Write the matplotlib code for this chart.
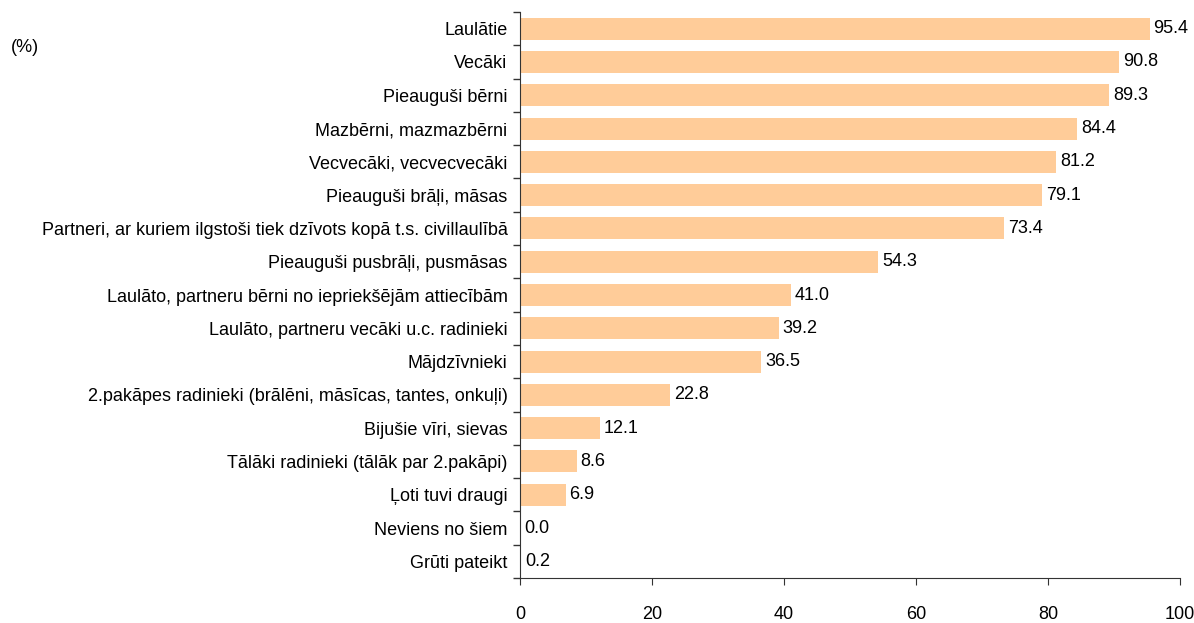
import matplotlib.pyplot as plt
import numpy as np

categories = [
    "Laulātie",
    "Vecāki",
    "Pieauguši bērni",
    "Mazbērni, mazmazbērni",
    "Vecvecāki, vecvecvecāki",
    "Pieauguši brāļi, māsas",
    "Partneri, ar kuriem ilgstoši tiek dzīvots kopā t.s. civillaulībā",
    "Pieauguši pusbrāļi, pusmāsas",
    "Laulāto, partneru bērni no iepriekšējām attiecībām",
    "Laulāto, partneru vecāki u.c. radinieki",
    "Mājdzīvnieki",
    "2.pakāpes radinieki (brālēni, māsīcas, tantes, onkuļi)",
    "Bijušie vīri, sievas",
    "Tālāki radinieki (tālāk par 2.pakāpi)",
    "Ļoti tuvi draugi",
    "Neviens no šiem",
    "Grūti pateikt",
]
values = [95.4, 90.8, 89.3, 84.4, 81.2, 79.1, 73.4, 54.3, 41.0, 39.2, 36.5,
          22.8, 12.1, 8.6, 6.9, 0.0, 0.2]

plt.rcParams['font.family'] = ['Liberation Sans', 'DejaVu Sans']
plt.rcParams['font.size'] = 13

fig = plt.figure(figsize=(11.94, 6.23), dpi=100)
ax = fig.add_axes([520 / 1194, 1 - 578 / 623, 660 / 1194, 566 / 623])

n = len(categories)
y = np.arange(n)
ax.barh(y, values, height=0.66, color='#FFCC99', zorder=2)
for yi, v in zip(y, values):
    ax.text(v + 0.6, yi, f"{v:.1f}", va='center', ha='left', fontsize=13)

ax.set_ylim(n - 0.5, -0.5)
ax.set_xlim(0, 100)
ax.set_xticks(np.arange(0, 101, 20))
ax.set_yticks(y)
ax.set_yticklabels(categories)
ax.set_yticks(np.arange(-0.5, n, 1), minor=True)
ax.tick_params(axis='y', which='major', length=0, pad=9, labelsize=13)
ax.tick_params(axis='y', which='minor', length=5, width=1, direction='out',
               color='#333333')
ax.tick_params(axis='x', length=5, direction='out', pad=15, labelsize=13,
               color='#333333')

for s in ['top', 'right']:
    ax.spines[s].set_visible(False)
ax.spines['left'].set_color('#333333')
ax.spines['bottom'].set_color('#333333')

fig.text(11 / 1194, 1 - 47 / 623, "(%)", fontsize=13, va='center', ha='left')

fig.savefig("out.png", dpi=100)
